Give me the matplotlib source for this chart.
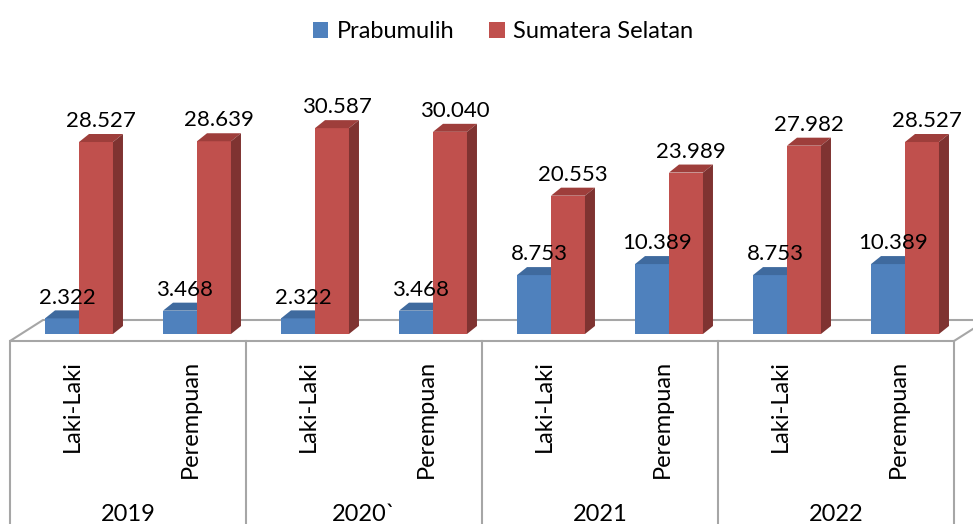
import matplotlib
matplotlib.use("Agg")
import matplotlib.pyplot as plt
from matplotlib.patches import Polygon, Patch

# data (jumlah penduduk, titik = pemisah ribuan)
years = ["2019", "2020`", "2021", "2022"]
sexes = ["Laki-Laki", "Perempuan"]
prabumulih = [2322, 3468, 2322, 3468, 8753, 10389, 8753, 10389]
sumsel = [28527, 28639, 30587, 30040, 20553, 23989, 27982, 28527]

blue = ("#4F81BD", "#3F6A9E", "#385D8A")   # front, top, side
red = ("#C0504D", "#9E3E3B", "#7F3331")
grid_c = "#A6A6A6"

plt.rcParams["font.family"] = ["Lato", "DejaVu Sans"]

fig = plt.figure(figsize=(9.73, 5.24), dpi=100)
ax = fig.add_axes([0, 0, 1, 1])
ax.set_xlim(-0.6695, 7.5763)
ax.set_ylim(-28232, 49628)
ax.axis("off")

w = 0.288          # bar width
dx, dy = 0.0847, 1189   # 3d depth of a bar
fx, fy = -0.0847, -1040  # floor front offset
bx, by = 0.195, 2080     # floor back offset
n = len(prabumulih)


def bar3d(x0, h, cols):
    front = [(x0, 0), (x0 + w, 0), (x0 + w, h), (x0, h)]
    top = [(x0, h), (x0 + w, h), (x0 + w + dx, h + dy), (x0 + dx, h + dy)]
    side = [(x0 + w, 0), (x0 + w + dx, dy), (x0 + w + dx, h + dy), (x0 + w, h)]
    for pts, c in zip((front, top, side), cols):
        ax.add_patch(Polygon(pts, closed=True, fc=c, ec="none", zorder=3))


def label(x, h):
    ax.annotate(f"{h:,}".replace(",", "."), (x + w / 2 + dx / 2, h),
                xytext=(0, 15), textcoords="offset points",
                ha="center", va="center", fontsize=16, zorder=5)


# floor
left, right = -0.5, n - 0.5
floor = [(left + fx, fy), (right + fx, fy), (right + bx, by), (left + bx, by)]
ax.add_patch(Polygon(floor, closed=True, fc="white", ec=grid_c, lw=1.5, zorder=1))

for i in range(n):
    bar3d(i - w, prabumulih[i], blue)
    bar3d(i, sumsel[i], red)
    label(i - w, prabumulih[i])
    label(i, sumsel[i])

# category table under the floor
for g in range(len(years) + 1):
    ax.plot([left + 2 * g + fx] * 2, [fy, -30000], color=grid_c, lw=1.5, zorder=1)
for i in range(n):
    ax.text(i - 0.06, -3863, sexes[i % 2], rotation=90, ha="center", va="top",
            fontsize=17)
for g, yr in enumerate(years):
    ax.text(2 * g + 0.5 + fx, -25300, yr, ha="center", va="top", fontsize=17)

handles = [Patch(fc=blue[0]), Patch(fc=red[0])]
fig.legend(handles, ["Prabumulih", "Sumatera Selatan"], loc="upper center",
           bbox_to_anchor=(503 / 973, 1.0), ncol=2, frameon=False, fontsize=17,
           handlelength=0.65, handleheight=0.65, handletextpad=0.35,
           columnspacing=1.5, borderaxespad=0.5)

fig.savefig("out.png", dpi=100)
